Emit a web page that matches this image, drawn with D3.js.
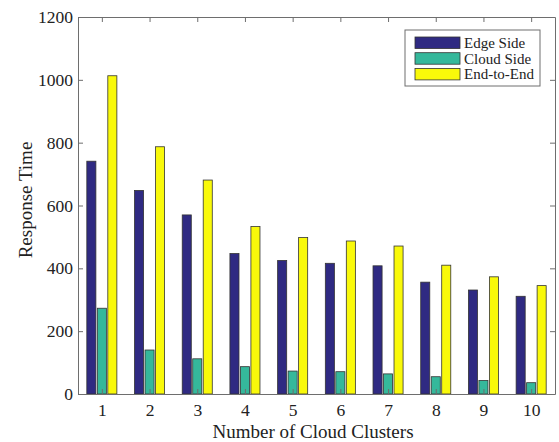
<!DOCTYPE html>
<html>
<head>
<meta charset="utf-8">
<script src="https://cdn.jsdelivr.net/npm/d3@7"></script>
<style>
  html, body { margin: 0; padding: 0; background: #fff; }
  svg { display: block; font-family: "Liberation Serif", "Times New Roman", serif; }
</style>
</head>
<body>
<svg id="chart" width="559" height="442"></svg>
<script>
// Response time per number of cloud clusters
const categories = ["1", "2", "3", "4", "5", "6", "7", "8", "9", "10"];
const seriesNames = ["Edge Side", "Cloud Side", "End-to-End"];
const edgeSide  = [741, 648, 570, 447, 425, 416, 408, 356, 331, 311];
const cloudSide = [273, 140, 112, 87, 73, 71, 64, 55, 43, 36];
const endToEnd  = [1013, 787, 681, 533, 498, 487, 471, 410, 373, 345];
const yTicks = [0, 200, 400, 600, 800, 1000, 1200];
const seriesColors = ["#2f2a82", "#35b89b", "#f9f90a"];

const series = [edgeSide, cloudSide, endToEnd];

const svg = d3.select("#chart");
const margin = { left: 78, top: 17, right: 4, bottom: 48 };
const W = 559, H = 442;
const x0 = margin.left, x1 = W - margin.right;
const y0 = H - margin.bottom, y1 = margin.top;

// Numeric x position for each cluster count, limits padded by half a unit
const x = d3.scaleLinear().domain([0.5, categories.length + 0.5]).range([x0, x1]);
const y = d3.scaleLinear().domain([0, 1200]).range([y0, y1]);

const offsets = [-0.22, 0, 0.22];
const barW = 0.19;

// Bars
series.forEach((vals, s) => {
  svg.append("g").selectAll("rect").data(vals).join("rect")
    .attr("x", (d, i) => x(i + 1 + offsets[s] - barW / 2))
    .attr("y", d => y(d))
    .attr("width", x(barW) - x(0))
    .attr("height", d => y(0) - y(d))
    .attr("fill", seriesColors[s])
    .attr("stroke", "#333")
    .attr("stroke-width", 0.8);
});

const axisColor = "#6e6e6e";
const tickLen = 5;
const xTickVals = categories.map((c, i) => i + 1);

// Bottom and left axes with inward ticks
const gx = svg.append("g").attr("transform", `translate(0,${y0})`)
  .call(d3.axisBottom(x).tickValues(xTickVals).tickFormat((d, i) => categories[i])
    .tickSizeInner(-tickLen).tickSizeOuter(0).tickPadding(10));
const gy = svg.append("g").attr("transform", `translate(${x0},0)`)
  .call(d3.axisLeft(y).tickValues(yTicks).tickFormat(d3.format("d"))
    .tickSizeInner(-tickLen).tickSizeOuter(0).tickPadding(5));
// Top and right axes (ticks only)
const gt = svg.append("g").attr("transform", `translate(0,${y1})`)
  .call(d3.axisTop(x).tickValues(xTickVals).tickFormat("").tickSizeInner(-tickLen).tickSizeOuter(0));
const gr = svg.append("g").attr("transform", `translate(${x1},0)`)
  .call(d3.axisRight(y).tickValues(yTicks).tickFormat("").tickSizeInner(-tickLen).tickSizeOuter(0));

[gx, gy, gt, gr].forEach(g => {
  g.selectAll("path").attr("stroke", axisColor).attr("stroke-width", 1);
  g.selectAll("line").attr("stroke", axisColor);
  g.selectAll("text").attr("fill", "#222").style("font-size", "17.5px")
    .style("font-family", "'Liberation Serif', 'Times New Roman', serif");
});

// Axis titles
svg.append("text")
  .attr("x", 313).attr("y", 438)
  .attr("text-anchor", "middle").attr("fill", "#222")
  .style("font-size", "19px")
  .text("Number of Cloud Clusters");
svg.append("text")
  .attr("transform", "translate(32,200) rotate(-90)")
  .attr("text-anchor", "middle").attr("fill", "#222")
  .style("font-size", "19px")
  .text("Response Time");

// Legend
const leg = svg.append("g").attr("transform", "translate(405,30)");
leg.append("rect").attr("width", 135).attr("height", 56)
  .attr("fill", "#fff").attr("stroke", axisColor).attr("stroke-width", 1);
seriesNames.forEach((name, i) => {
  const row = leg.append("g").attr("transform", `translate(10,${7 + i * 15.7})`);
  row.append("rect").attr("width", 45).attr("height", 11.5)
    .attr("fill", seriesColors[i]).attr("stroke", "#333").attr("stroke-width", 0.8);
  row.append("text").attr("x", 49).attr("y", 11).attr("fill", "#222")
    .style("font-size", "15px").text(name);
});
</script>
</body>
</html>
